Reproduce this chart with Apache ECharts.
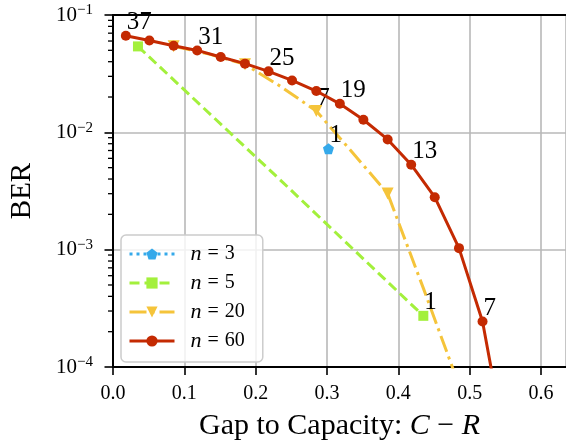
<!DOCTYPE html>
<html><head><meta charset="utf-8">
<script src="https://cdn.jsdelivr.net/npm/echarts@6/dist/echarts.min.js"></script>
<style>html,body{margin:0;padding:0;background:#fff}#c{width:566px;height:446px}</style>
</head><body><div id="c"></div><script>
const FONT = 'Liberation Serif';
// axis ticks
const xTicks = [0, 0.1, 0.2, 0.3, 0.4, 0.5, 0.6];
const yTicks = [1e-4, 1e-3, 1e-2, 1e-1];
const yMinorTicks = [2e-4,3e-4,4e-4,5e-4,6e-4,7e-4,8e-4,9e-4,
                     2e-3,3e-3,4e-3,5e-3,6e-3,7e-3,8e-3,9e-3,
                     2e-2,3e-2,4e-2,5e-2,6e-2,7e-2,8e-2,9e-2];
// n = 3
const gapN3 = [0.302];
const berN3 = [0.00723];
const markN3 = [true];
const labN3 = ['1'];
// n = 5
const gapN5 = [0.035, 0.235, 0.435];
const berN5 = [0.054, 0.0039, 0.000273];
const markN5 = [true, false, true];
const labN5 = ['', '', '1'];
// n = 20
const gapN20 = [0.085, 0.135, 0.185, 0.235, 0.285, 0.335, 0.385, 0.435, 0.485];
const berN20 = [0.0542, 0.0464, 0.0380, 0.0246, 0.0152, 0.0068, 0.00301, 0.00047, 0.00007];
const markN20 = [true, false, true, false, true, false, true, false, true];
const labN20 = ['', '', '', '', '7', '', '', '', ''];
// n = 60
const gapN60 = [0.018, 0.051, 0.085, 0.118, 0.151, 0.185, 0.218, 0.251, 0.285, 0.318, 0.351, 0.385, 0.418, 0.451, 0.485, 0.518, 0.551];
const berN60 = [0.0665, 0.0607, 0.0547, 0.0499, 0.0439, 0.0385, 0.0331, 0.0277, 0.0225, 0.0175, 0.0128, 0.0087, 0.0053, 0.0028, 0.00103, 0.000244, 0.00002];
const markN60 = gapN60.map(() => true);
const labN60 = ['37', '', '', '31', '', '', '25', '', '', '19', '', '', '13', '', '', '7', ''];

const seriesNames = ['n = 3', 'n = 5', 'n = 20', 'n = 60'];
const colors = ['#35a9ea', '#a3f03c', '#f5c43a', '#c42a02'];

function build(gaps, bers, marks, labs) {
  return gaps.map((g, i) => {
    const d = { value: [g, bers[i]] };
    if (!marks[i]) d.symbol = 'none';
    if (labs[i]) d.label = { show: true, formatter: labs[i] };
    return d;
  });
}
const labelBase = {
  show: false, position: 'inside', align: 'left', verticalAlign: 'middle',
  offset: [1, -13], fontFamily: FONT, fontSize: 25, color: '#000',
  textBorderWidth: 0
};
const pentagon = 'path://M0,-1L0.951,-0.309L0.588,0.809L-0.588,0.809L-0.951,-0.309Z';

const chart = echarts.init(document.getElementById('c'), null, { renderer: 'canvas' });
chart.setOption({
  animation: false,
  backgroundColor: '#fff',
  grid: { left: 110.7, top: 15, right: -2.5, bottom: 76 },
  legend: {
    left: 121, top: 235, orient: 'vertical',
    data: seriesNames,
    itemWidth: 45, itemHeight: 14, itemGap: 7,
    padding: [8, 18, 10, 7],
    borderColor: '#cccccc', borderWidth: 1.5, borderRadius: 5,
    backgroundColor: 'rgba(255,255,255,0.8)',
    selectedMode: false,
    lineStyle: { width: 3 },
    formatter: name => '{i|n}{e|=}' + name.slice(4),
    textStyle: {
      fontFamily: FONT, fontSize: 20, lineHeight: 14, color: '#000', padding: [0, 0, 0, 11],
      rich: {
        i: { fontFamily: FONT, fontSize: 22, lineHeight: 14, fontStyle: 'italic', color: '#000' },
        e: { fontFamily: FONT, fontSize: 20, lineHeight: 14, color: '#000', padding: [0, 6, 0, 6] }
      }
    }
  },
  xAxis: [{
    type: 'value', min: 0, max: 0.635, interval: 0.1,
    name: 'Gap to Capacity: {i|C} \u2212 {i|R}', nameLocation: 'middle', nameGap: 44,
    nameTextStyle: { fontFamily: FONT, fontSize: 30, color: '#000',
      rich: { i: { fontFamily: FONT, fontSize: 30, fontStyle: 'italic', color: '#000' } } },
    axisLine: { show: true, onZero: false, lineStyle: { color: '#000', width: 2 } },
    axisTick: { show: true, inside: false, length: 8, lineStyle: { color: '#000', width: 1.6 } },
    axisLabel: {
      margin: 17, fontFamily: FONT, fontSize: 20, color: '#000', showMaxLabel: false,
      formatter: v => xTicks.some(t => Math.abs(t - v) < 1e-9) ? v.toFixed(1) : ''
    },
    splitLine: { show: true, showMinLine: false, lineStyle: { color: '#b8b8b8', width: 1.6 } }
  }, {
    type: 'value', position: 'top', min: 0, max: 0.635,
    axisLine: { show: true, onZero: false, lineStyle: { color: '#000', width: 2 } },
    axisTick: { show: false }, axisLabel: { show: false }, splitLine: { show: false }
  }],
  yAxis: {
    type: 'log', logBase: 10, min: yTicks[0], max: yTicks[yTicks.length - 1],
    name: 'BER', nameLocation: 'middle', nameGap: 76, nameRotate: 90,
    nameTextStyle: { fontFamily: FONT, fontSize: 29, color: '#000' },
    axisLine: { show: true, onZero: false, lineStyle: { color: '#000', width: 2 } },
    axisTick: { show: true, inside: false, length: 8.5, lineStyle: { color: '#000', width: 1.6 } },
    axisLabel: {
      margin: 20, color: '#000',
      formatter: v => '{b|10}{s|\u2212' + Math.abs(Math.round(Math.log10(v))) + '}',
      rich: {
        b: { fontFamily: FONT, fontSize: 21, lineHeight: 24, color: '#000' },
        s: { fontFamily: FONT, fontSize: 15, lineHeight: 15, verticalAlign: 'top', color: '#000' }
      }
    },
    splitLine: { show: true, showMinLine: false, showMaxLine: false, lineStyle: { color: '#b8b8b8', width: 1.6 } }
  },
  series: [
    {
      type: 'custom', silent: true, clip: false, z: 5,
      data: yMinorTicks.map(v => [0, v]),
      renderItem: (params, api) => {
        const p = api.coord([api.value(0), api.value(1)]);
        return { type: 'line', shape: { x1: p[0], y1: p[1], x2: p[0] - 5, y2: p[1] },
          style: { stroke: '#000', lineWidth: 1.3 } };
      }
    },
    {
      name: seriesNames[0], type: 'line', data: build(gapN3, berN3, markN3, labN3),
      symbol: pentagon, symbolSize: 11, color: colors[0],
      lineStyle: { width: 3, type: [3, 4], color: colors[0] },
      itemStyle: { color: colors[0] }, label: labelBase, clip: true, z: 3
    },
    {
      name: seriesNames[1], type: 'line', data: build(gapN5, berN5, markN5, labN5),
      symbol: 'rect', symbolSize: 10, color: colors[1],
      lineStyle: { width: 3, type: [10, 5], color: colors[1] },
      itemStyle: { color: colors[1] }, label: labelBase, clip: true, z: 3
    },
    {
      name: seriesNames[2], type: 'line', data: build(gapN20, berN20, markN20, labN20),
      symbol: 'triangle', symbolRotate: 180, symbolSize: 12, color: colors[2],
      lineStyle: { width: 3, type: [17, 5, 3, 5], color: colors[2] },
      itemStyle: { color: colors[2] }, label: labelBase, clip: true, z: 3
    },
    {
      name: seriesNames[3], type: 'line', data: build(gapN60, berN60, markN60, labN60),
      symbol: 'circle', symbolSize: 10, color: colors[3],
      lineStyle: { width: 3, color: colors[3] },
      itemStyle: { color: colors[3] }, label: labelBase, clip: true, z: 4
    }
  ]
});
</script></body></html>
